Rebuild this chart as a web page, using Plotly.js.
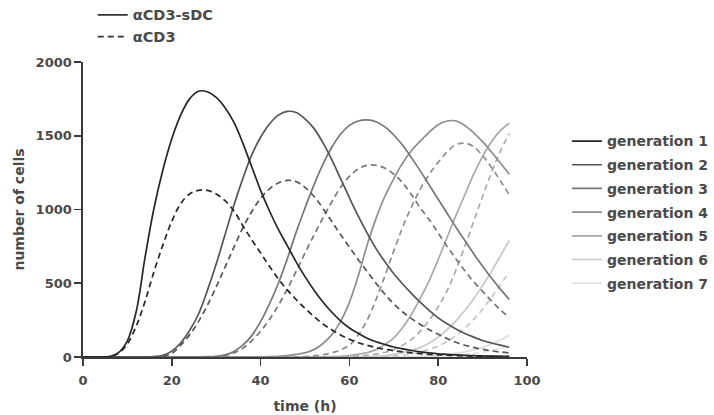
<!DOCTYPE html>
<html>
<head>
<meta charset="utf-8">
<script src="https://cdn.plot.ly/plotly-3.0.1.min.js"></script>
<style>html,body{margin:0;padding:0;background:#fff;}#chart{width:714px;height:415px;}</style>
</head>
<body>
<div id="chart"></div>
<script>
// time (h)
var time = [0,2,4,6,8,10,12,14,16,18,20,22,24,26,28,30,32,34,36,38,40,42,44,46,48,50,52,54,56,58,60,62,64,66,68,70,72,74,76,78,80,82,84,86,88,90,92,94,96];

// alphaCD3-sDC (solid), per generation
var gen1_sDC = [0,0,0,3,30,110,310,680,1010,1270,1480,1640,1750,1802,1798,1760,1690,1590,1450,1290,1130,990,865,755,645,545,455,375,305,245,197,160,127,103,85,68,55,44,35,28,22,18,14,11,9,7,6,5,4];
var gen2_sDC = [0,0,0,0,0,0,0,0,3,12,40,95,180,290,450,630,830,1030,1210,1370,1490,1580,1640,1665,1658,1615,1550,1455,1340,1210,1080,955,840,735,645,565,495,430,370,315,265,225,190,160,135,112,95,80,66];
var gen3_sDC = [0,0,0,0,0,0,0,0,0,0,0,0,0,0,2,5,15,38,80,145,240,360,500,665,845,1010,1165,1305,1420,1510,1570,1600,1607,1595,1560,1505,1435,1350,1260,1165,1070,975,880,790,700,615,535,460,390];
var gen4_sDC = [0,0,0,0,0,0,0,0,0,0,0,0,0,0,0,0,0,0,0,0,0,2,5,10,18,28,50,90,150,240,370,550,760,940,1090,1210,1315,1400,1465,1525,1575,1600,1600,1570,1520,1460,1390,1315,1240];
var gen5_sDC = [0,0,0,0,0,0,0,0,0,0,0,0,0,0,0,0,0,0,0,0,0,0,0,0,0,0,0,0,2,5,10,18,30,50,85,130,200,290,400,520,660,810,960,1100,1240,1360,1460,1535,1585];
var gen6_sDC = [0,0,0,0,0,0,0,0,0,0,0,0,0,0,0,0,0,0,0,0,0,0,0,0,0,0,0,0,0,0,0,0,2,5,10,18,30,45,65,95,135,185,245,315,395,485,580,685,790];
var gen7_sDC = [0,0,0,0,0,0,0,0,0,0,0,0,0,0,0,0,0,0,0,0,0,0,0,0,0,0,0,0,0,0,0,0,0,0,0,0,0,2,4,7,11,17,25,35,48,65,88,115,148];

// alphaCD3 (dashed), per generation
var gen1_CD3 = [0,0,0,3,25,90,210,380,580,760,920,1040,1105,1130,1130,1105,1060,990,890,795,705,615,530,455,390,330,275,225,185,150,120,97,79,64,52,43,35,28,23,18,15,12,9,7,6,5,4,3,3];
var gen2_CD3 = [0,0,0,0,0,0,0,0,0,5,25,80,150,240,350,475,610,745,875,985,1075,1140,1180,1198,1190,1150,1090,1010,920,830,745,660,580,500,425,360,305,260,220,185,155,125,100,80,65,52,42,34,28];
var gen3_CD3 = [0,0,0,0,0,0,0,0,0,0,0,0,0,0,0,3,10,28,60,110,175,255,350,460,580,705,825,940,1050,1150,1225,1275,1300,1300,1280,1240,1180,1100,1010,930,840,750,665,585,510,445,380,320,265];
var gen4_CD3 = [0,0,0,0,0,0,0,0,0,0,0,0,0,0,0,0,0,0,0,0,0,0,0,0,0,3,8,15,28,48,80,150,250,390,550,720,880,1020,1140,1240,1320,1390,1440,1450,1425,1365,1285,1195,1100];
var gen5_CD3 = [0,0,0,0,0,0,0,0,0,0,0,0,0,0,0,0,0,0,0,0,0,0,0,0,0,0,0,0,0,0,3,6,12,20,32,50,80,120,175,250,340,450,590,750,920,1090,1250,1395,1515];
var gen6_CD3 = [0,0,0,0,0,0,0,0,0,0,0,0,0,0,0,0,0,0,0,0,0,0,0,0,0,0,0,0,0,0,0,0,0,0,3,7,13,22,35,52,75,105,145,195,255,325,405,490,575];
var gen7_CD3 = [0,0,0,0,0,0,0,0,0,0,0,0,0,0,0,0,0,0,0,0,0,0,0,0,0,0,0,0,0,0,0,0,0,0,0,0,0,0,0,2,4,7,11,16,23,32,44,58,75];

var genNames = ['generation 1','generation 2','generation 3','generation 4','generation 5','generation 6','generation 7'];
var condNames = ['\u03b1CD3-sDC','\u03b1CD3'];
var xTicks = [0,20,40,60,80,100];
var yTicks = [0,500,1000,1500,2000];

var sDC = [gen1_sDC,gen2_sDC,gen3_sDC,gen4_sDC,gen5_sDC,gen6_sDC,gen7_sDC];
var CD3 = [gen1_CD3,gen2_CD3,gen3_CD3,gen4_CD3,gen5_CD3,gen6_CD3,gen7_CD3];
var colors = ['#262626','#555555','#777777','#8e8e8e','#a9a9a9','#c8c8c8','#dddddd'];
var LW = 1.7;
var DASH = '6px,4px';

var traces = [];
for (var g = 6; g >= 0; g--) {
  traces.push({x: time, y: CD3[g], type: 'scatter', mode: 'lines',
    line: {color: colors[g], width: LW, dash: DASH, shape: 'spline', smoothing: 1},
    showlegend: false, hoverinfo: 'skip'});
  traces.push({x: time, y: sDC[g], type: 'scatter', mode: 'lines', name: genNames[g],
    line: {color: colors[g], width: LW, shape: 'spline', smoothing: 1},
    legend: 'legend', legendrank: g + 1, legendgroup: 'g' + g, hoverinfo: 'skip'});
}
traces.push({x: [null], y: [null], type: 'scatter', mode: 'lines', name: condNames[0],
  line: {color: '#333333', width: LW}, legend: 'legend2', legendrank: 1});
traces.push({x: [null], y: [null], type: 'scatter', mode: 'lines', name: condNames[1],
  line: {color: '#333333', width: LW, dash: DASH}, legend: 'legend2', legendrank: 2});

var txtFont = {family: 'DejaVu Sans', size: 13, color: '#4a4a4a', weight: 'bold'};

var layout = {
  width: 714, height: 415,
  margin: {l: 83, r: 187, t: 62, b: 58, pad: 0, autoexpand: false},
  paper_bgcolor: '#ffffff', plot_bgcolor: '#ffffff',
  font: txtFont,
  showlegend: true,
  xaxis: {
    range: [0, 100], tickvals: xTicks, ticktext: xTicks.map(String),
    showgrid: false, zeroline: false, showline: true, linecolor: '#3a3a3a', linewidth: 1.6,
    ticks: 'outside', ticklen: 7, tickwidth: 1.6, tickcolor: '#3a3a3a',
    tickfont: {family: 'DejaVu Sans', size: 13, color: '#4a4a4a', weight: 'bold'},
    ticklabelstandoff: 4, automargin: false,
    title: {text: 'time (h)', font: {family: 'DejaVu Sans', size: 14, color: '#4a4a4a', weight: 'bold'}, standoff: 14}
  },
  yaxis: {
    range: [0, 2000], tickvals: yTicks, ticktext: yTicks.map(String),
    showgrid: false, zeroline: false, showline: true, linecolor: '#3a3a3a', linewidth: 1.6,
    ticks: 'outside', ticklen: 7, tickwidth: 1.6, tickcolor: '#3a3a3a', automargin: false,
    tickfont: {family: 'DejaVu Sans', size: 13, color: '#4a4a4a', weight: 'bold'},
    title: {text: 'number of cells', font: {family: 'DejaVu Sans', size: 14, color: '#4a4a4a', weight: 'bold'}, standoff: 8}
  },
  legend: {
    x: 1.09, xanchor: 'left', y: 0.785, yanchor: 'top',
    font: {family: 'DejaVu Sans', size: 14, color: '#4a4a4a', weight: 'bold'},
    traceorder: 'grouped', tracegroupgap: 2.5, bgcolor: 'rgba(0,0,0,0)', borderwidth: 0
  },
  legend2: {
    x: 0.022, xanchor: 'left', y: 1.214, yanchor: 'top',
    font: {family: 'DejaVu Sans', size: 14.5, color: '#4a4a4a', weight: 'bold'},
    traceorder: 'normal', bgcolor: 'rgba(0,0,0,0)', borderwidth: 0
  }
};

Plotly.newPlot('chart', traces, layout, {displayModeBar: false, staticPlot: true});
</script>
</body>
</html>
